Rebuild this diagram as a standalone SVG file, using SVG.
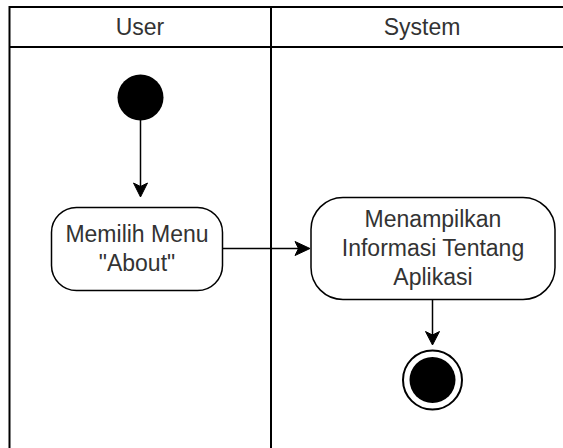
<svg xmlns="http://www.w3.org/2000/svg" width="563" height="448" viewBox="0 0 563 448">
<style>
.lane{fill:none;stroke:#000;stroke-width:2}
.txt{font-family:"Liberation Sans",Arial,sans-serif;font-size:23px;fill:#333;text-anchor:middle}
.act{fill:#fff;stroke:#000;stroke-width:1.5}
.edge{fill:none;stroke:#000;stroke-width:1.5}
.head{fill:#000;stroke:#000;stroke-width:1}
</style>
<rect width="563" height="448" fill="#fff"/>
<g id="pool">
<rect class="lane" x="9.5" y="7" width="580" height="460"/>
<line class="lane" x1="9.5" y1="47" x2="580" y2="47"/>
<line class="lane" x1="271" y1="7" x2="271" y2="460"/>
</g>
<g id="lane-user"><text class="txt" x="140" y="35">User</text></g>
<g id="lane-system"><text class="txt" x="422" y="35">System</text></g>
<g id="start"><circle cx="140.5" cy="97.5" r="23" fill="#000"/></g>
<g id="act1">
<rect class="act" x="51.5" y="207.5" width="171" height="83" rx="25" ry="25"/>
<text class="txt" x="137" y="242">Memilih Menu</text>
<text class="txt" x="137" y="271">"About"</text>
</g>
<g id="act2">
<rect class="act" x="311" y="197.5" width="244" height="102" rx="32" ry="32"/>
<text class="txt" x="433" y="227">Menampilkan</text>
<text class="txt" x="433" y="256">Informasi Tentang</text>
<text class="txt" x="433" y="285">Aplikasi</text>
</g>
<g id="end">
<circle cx="432.5" cy="380" r="29.5" fill="#fff" stroke="#000" stroke-width="2"/>
<circle cx="432.5" cy="380" r="23" fill="#000"/>
</g>
<g id="connectors">
<line class="edge" x1="140.5" y1="120" x2="140.5" y2="188"/>
<polygon class="head" points="140.5,197 133.5,183 140.5,186.5 147.5,183"/>
<line class="edge" x1="222.5" y1="248.5" x2="301" y2="248.5"/>
<polygon class="head" points="310,248.5 295,241.5 298.5,248.5 295,255.5"/>
<line class="edge" x1="432.5" y1="300" x2="432.5" y2="336"/>
<polygon class="head" points="432.5,345 425.5,331.5 432.5,335 439.5,331.5"/>
</g>
</svg>
